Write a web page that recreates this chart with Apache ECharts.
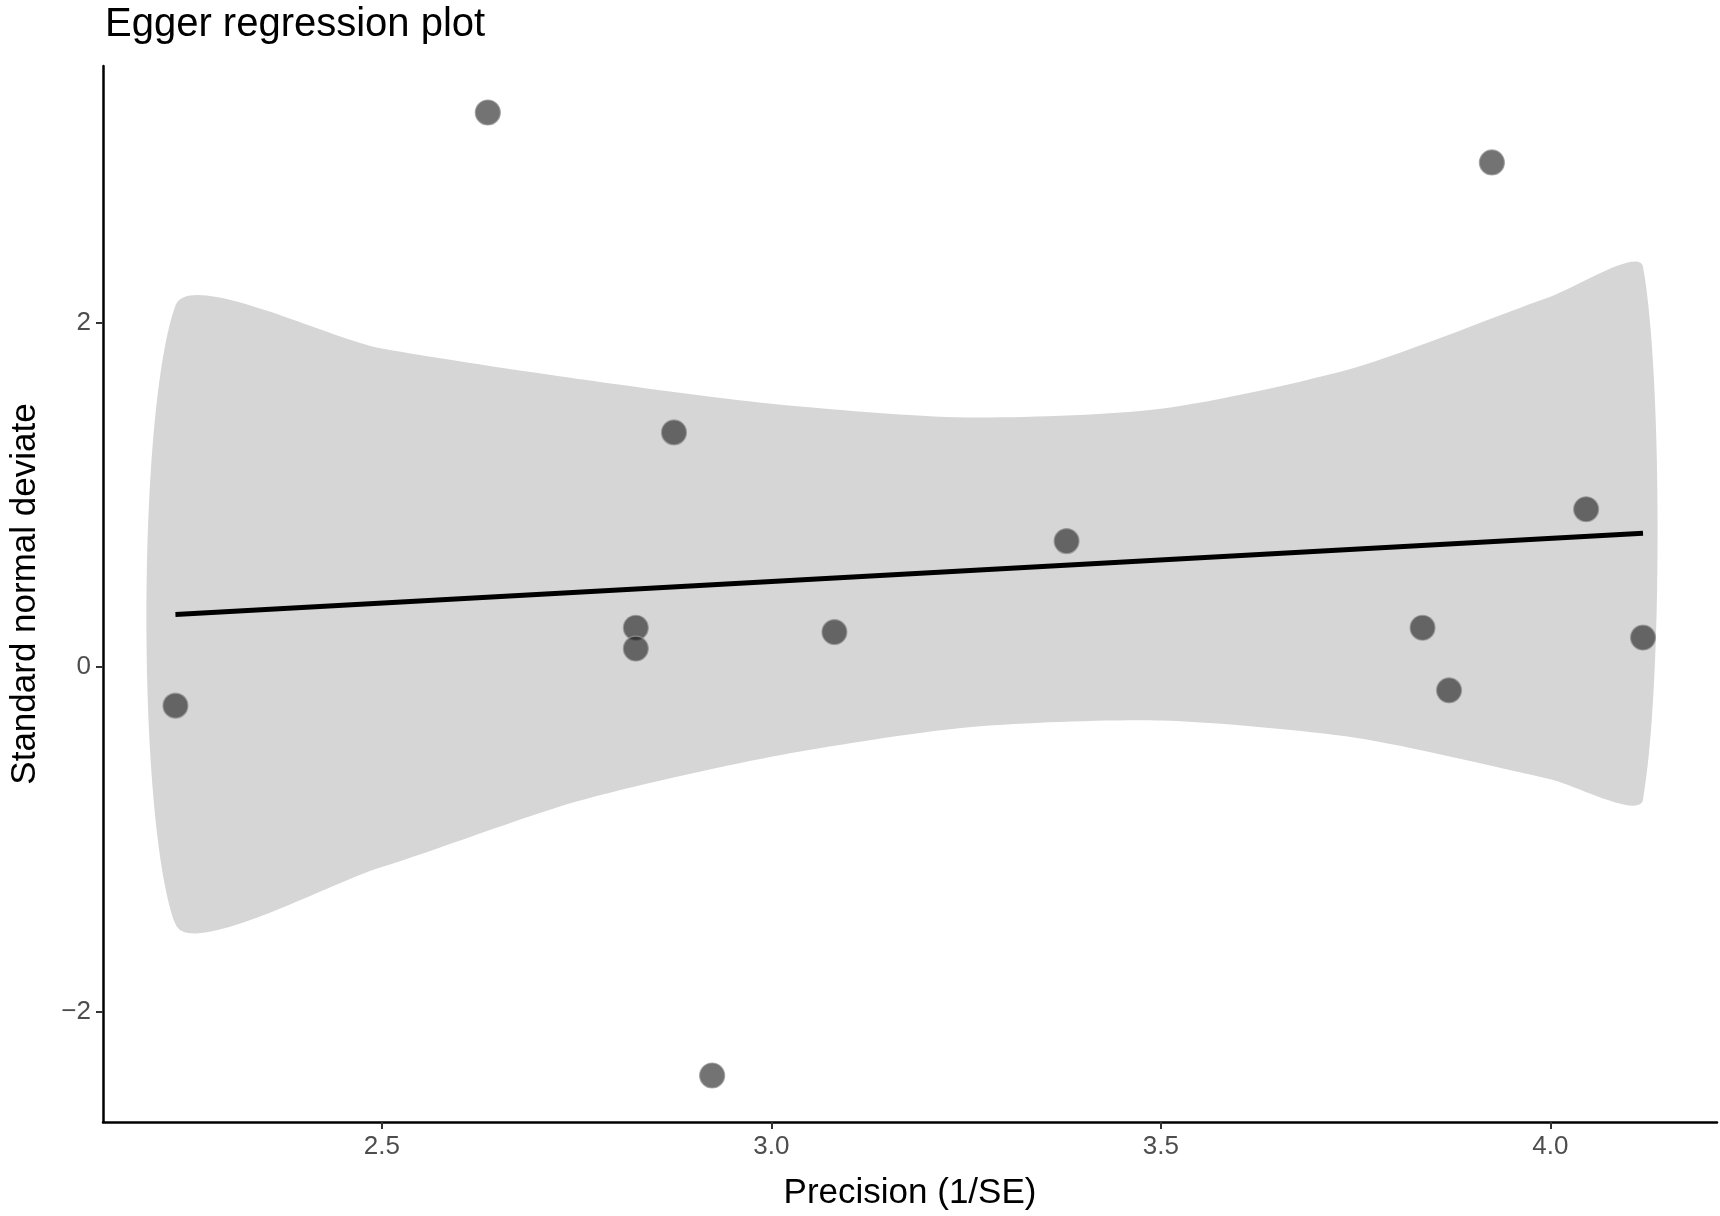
<!DOCTYPE html>
<html>
<head>
<meta charset="utf-8">
<script src="https://cdn.jsdelivr.net/npm/echarts@6/dist/echarts.min.js"></script>
<style>
  html, body { margin: 0; padding: 0; background: #fff; }
  #chart { width: 1720px; height: 1216px; }
</style>
</head>
<body>
<div id="chart"></div>
<script>
// study points: precision (1/SE) vs standard normal deviate
const precision = [2.235, 2.636, 2.826, 2.826, 2.875, 2.924, 3.081, 3.379, 3.836, 3.870, 3.925, 4.046, 4.119];
const snd = [-0.223, 3.22, 0.229, 0.108, 1.363, -2.37, 0.204, 0.732, 0.229, -0.134, 2.93, 0.917, 0.172];

// regression line ends
const lineX = [2.235, 4.119];
const lineY = [0.306, 0.777];

// confidence band
const bandX = [2.235, 2.5, 2.75, 3.0, 3.25, 3.5, 3.75, 4.0, 4.119];
const bandUpper = [2.10, 1.85, 1.675, 1.53, 1.45, 1.50, 1.74, 2.15, 2.325];
const bandLower = [-1.49, -1.16, -0.78, -0.52, -0.35, -0.31, -0.41, -0.65, -0.77];

const xTicks = [2.5, 3.0, 3.5, 4.0];
const yTicks = [-2, 0, 2];

const chart = echarts.init(document.getElementById('chart'));
const font = 'Liberation Sans, Arial, sans-serif';

chart.setOption({
  animation: false,
  title: {
    text: 'Egger regression plot',
    left: 100, top: 0,
    textStyle: { fontFamily: font, fontSize: 40, fontWeight: 'normal', color: '#000' }
  },
  grid: { left: 101, right: 3, top: 66, bottom: 92 },
  xAxis: {
    type: 'value', min: 2.142, max: 4.214,
    name: 'Precision (1/SE)', nameLocation: 'middle', nameGap: 54,
    nameTextStyle: { fontFamily: font, fontSize: 35, color: '#000' },
    axisLine: { onZero: false, lineStyle: { color: '#000', width: 2.5 } },
    axisTick: { show: true, length: 7, customValues: xTicks, lineStyle: { color: '#333', width: 2 } },
    axisLabel: {
      fontFamily: font, fontSize: 26, color: '#4d4d4d', margin: 12,
      customValues: xTicks, formatter: v => v.toFixed(1)
    },
    splitLine: { show: false }
  },
  yAxis: {
    type: 'value', min: -2.64, max: 3.49,
    name: 'Standard normal deviate', nameLocation: 'middle', nameGap: 60,
    nameTextStyle: { fontFamily: font, fontSize: 35, color: '#000' },
    axisLine: { onZero: false, lineStyle: { color: '#000', width: 2.5 } },
    axisTick: { show: true, length: 7, customValues: yTicks, lineStyle: { color: '#333', width: 2 } },
    axisLabel: {
      fontFamily: font, fontSize: 26, color: '#4d4d4d', margin: 12,
      customValues: yTicks, formatter: v => (v < 0 ? '\u2212' + Math.abs(v) : '' + v)
    },
    splitLine: { show: false }
  },
  series: [
    {
      type: 'custom', z: 1, silent: true,
      data: [0],
      renderItem: (params, api) => {
        const up = bandX.map((x, i) => api.coord([x, bandUpper[i]]));
        const lo = bandX.map((x, i) => api.coord([x, bandLower[i]])).reverse();
        return {
          type: 'group',
          children: [
            { type: 'polyline', shape: { points: up, smooth: 0.3 }, style: { stroke: 'none', fill: 'none' } },
            {
              type: 'polygon',
              shape: { points: up.concat(lo), smooth: 0.25, smoothConstraint: false },
              style: { fill: '#d6d6d6', stroke: null }
            }
          ]
        };
      }
    },
    {
      type: 'line', symbol: 'none',
      data: lineX.map((x, i) => [x, lineY[i]]),
      lineStyle: { color: '#000', width: 5 }, z: 3
    },
    {
      type: 'scatter', symbolSize: 25,
      data: precision.map((x, i) => [x, snd[i]]),
      itemStyle: { color: 'rgba(30,30,30,0.78)', borderColor: '#999', borderWidth: 1.2 },
      z: 4
    }
  ]
});
</script>
</body>
</html>
